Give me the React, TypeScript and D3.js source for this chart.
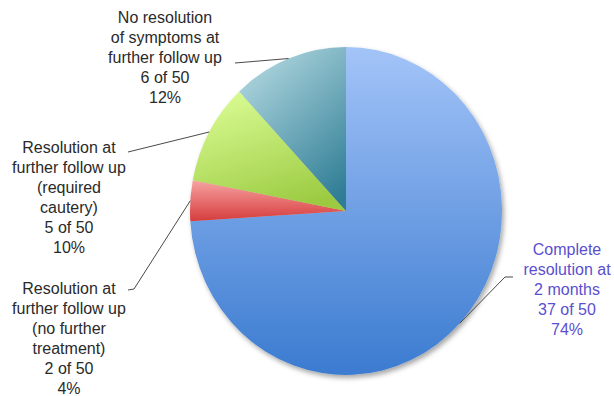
import React from "react";
import * as d3 from "d3";

const categories = [
  "Complete resolution at 2 months",
  "Resolution at further follow up (no further treatment)",
  "Resolution at further follow up (required cautery)",
  "No resolution of symptoms at further follow up",
];
const counts = [37, 2, 5, 6];
const total = 50;
const labelLines = [
  ["Complete", "resolution at", "2 months", "37 of 50", "74%"],
  ["Resolution at", "further follow up", "(no further", "treatment)", "2 of 50", "4%"],
  ["Resolution at", "further follow up", "(required", "cautery)", "5 of 50", "10%"],
  ["No resolution", "of symptoms at", "further follow up", "6 of 50", "12%"],
];

const W = 614;
const H = 396;
const cx = 346;
const cy = 211;
const rx = 156;
const ry = 164;

const gradStops = [
  { id: "gBlue", light: "#a3c4f8", dark: "#3b7bd0", x1: "0", y1: "0", x2: "0", y2: "1" },
  { id: "gRed", light: "#f7a3a3", dark: "#d63c3c", x1: "0", y1: "0", x2: "0", y2: "1" },
  { id: "gGreen", light: "#dafc94", dark: "#9ccb42", x1: "0.2", y1: "0", x2: "0.6", y2: "1" },
  { id: "gTeal", light: "#b2d8e0", dark: "#2f7d95", x1: "0.2", y1: "0", x2: "0.8", y2: "1" },
];

// label layout: text center x, first baseline y, leader line outer points
const labelLayout = [
  { x: 567, y: 255, color: "#5a4fd0", leader: [[505, 277], [513, 277]] },
  { x: 69, y: 294, color: "#2a2a2a", leader: [[134, 289], [128, 290]] },
  { x: 69, y: 153, color: "#2a2a2a", leader: [[128, 152]] },
  { x: 165, y: 23, color: "#2a2a2a", leader: [[235, 63]] },
];

export default function App() {
  const pie = d3.pie<number>().sort(null).value((d) => d).startAngle(0).endAngle(2 * Math.PI);
  const arcs = pie(counts);
  const arc = d3.arc<d3.PieArcDatum<number>>().innerRadius(0).outerRadius(ry);

  const edgePoint = (a: d3.PieArcDatum<number>) => {
    const m = (a.startAngle + a.endAngle) / 2;
    return [cx + rx * Math.sin(m), cy - ry * Math.cos(m)];
  };

  const line = d3.line();

  return (
    <svg
      width={W}
      height={H}
      style={{ position: "absolute", left: 0, top: 0, background: "#fff" }}
      fontFamily="'Liberation Sans', Arial, Helvetica, sans-serif"
    >
      <defs>
        {gradStops.map((g) => (
          <linearGradient key={g.id} id={g.id} x1={g.x1} y1={g.y1} x2={g.x2} y2={g.y2}>
            <stop offset="0" stopColor={g.light} />
            <stop offset="1" stopColor={g.dark} />
          </linearGradient>
        ))}
        <filter id="shadow" x="-10%" y="-10%" width="125%" height="125%">
          <feDropShadow dx="2" dy="3" stdDeviation="2.5" floodColor="#000" floodOpacity="0.35" />
        </filter>
      </defs>
      <g filter="url(#shadow)">
        <g transform={`translate(${cx},${cy}) scale(${rx / ry},1)`}>
          {arcs.map((a, i) => (
            <path key={categories[i]} d={arc(a) || ""} fill={`url(#${gradStops[i].id})`} />
          ))}
        </g>
      </g>
      {arcs.map((a, i) => {
        const pts = [edgePoint(a), ...labelLayout[i].leader] as [number, number][];
        return (
          <path key={"l" + i} d={line(pts) || ""} fill="none" stroke="#4a4a4a" strokeWidth={1} />
        );
      })}
      {labelLines.map((lines, i) => (
        <text
          key={"t" + i}
          x={labelLayout[i].x}
          y={labelLayout[i].y}
          textAnchor="middle"
          fontSize={16}
          fill={labelLayout[i].color}
        >
          {lines.map((ln, j) => (
            <tspan key={j} x={labelLayout[i].x} dy={j === 0 ? 0 : 20}>
              {ln}
            </tspan>
          ))}
        </text>
      ))}
      <desc>{`Total ${total}`}</desc>
    </svg>
  );
}
